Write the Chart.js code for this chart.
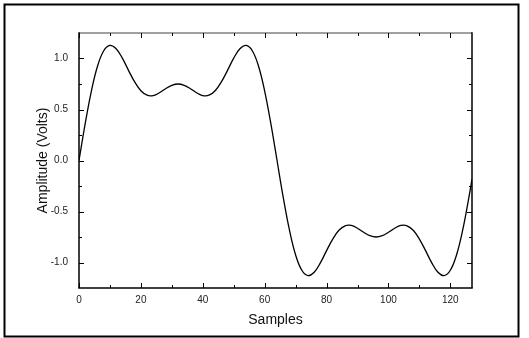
<!DOCTYPE html>
<html>
<head>
<meta charset="utf-8">
<script src="https://cdn.jsdelivr.net/npm/chart.js@4.4.0/dist/chart.umd.min.js"></script>
<style>
  html, body { margin:0; padding:0; background:#fff; }
  #wrap { width:529px; height:338px; }
</style>
</head>
<body>
<div id="wrap"><canvas id="waveChart" width="529" height="338"></canvas></div>
<script>
    // ======== Data ========
    const samples = [0, 2, 4, 6, 8, 10, 12, 14, 16, 18, 20, 22, 24, 26, 28, 30, 32,
      34, 36, 38, 40, 42, 44, 46, 48, 50, 52, 54, 56, 58, 60, 62, 64,
      66, 68, 70, 72, 74, 76, 78, 80, 82, 84, 86, 88, 90, 92, 94, 96,
      98, 100, 102, 104, 106, 108, 110, 112, 114, 116, 118, 120, 122, 124, 126, 127];
    const amplitude = [0, 0.361, 0.681, 0.926, 1.076, 1.128, 1.095, 1.003, 0.884, 0.770, 0.684, 0.640, 0.637, 0.664, 0.704, 0.737, 0.750,
      0.737, 0.704, 0.664, 0.637, 0.640, 0.684, 0.770, 0.884, 1.003, 1.095, 1.128, 1.076, 0.926, 0.681, 0.361, 0,
      -0.361, -0.681, -0.926, -1.076, -1.128, -1.095, -1.003, -0.884, -0.770, -0.684, -0.640, -0.637, -0.664, -0.704, -0.737, -0.750,
      -0.737, -0.704, -0.664, -0.637, -0.640, -0.684, -0.770, -0.884, -1.003, -1.095, -1.128, -1.076, -0.926, -0.681, -0.361, -0.183];

    const xMajorTicks = [0, 20, 40, 60, 80, 100, 120];
    const xMinorTicks = [10, 30, 50, 70, 90, 110];
    const yMajorTicks = [-1.0, -0.5, 0.0, 0.5, 1.0];
    const yMinorTicks = [-0.75, -0.25, 0.25, 0.75];

    // ======== Frame + inward ticks ========
    function line(ctx, x1, y1, x2, y2){
      ctx.beginPath(); ctx.moveTo(x1, y1); ctx.lineTo(x2, y2); ctx.stroke();
    }
    const framePlugin = {
      id: 'frame',
      beforeDraw(chart){
        const ctx = chart.ctx;
        ctx.save();
        ctx.fillStyle = '#fff';
        ctx.fillRect(0, 0, chart.width, chart.height);
        ctx.restore();
      },
      afterDraw(chart){
        const {ctx, chartArea: a} = chart;
        const xs = chart.scales.x, ys = chart.scales.y;
        ctx.save();
        // outer box
        ctx.strokeStyle = '#000';
        ctx.lineWidth = 2;
        ctx.strokeRect(4.5, 4.5, 514, 332);
        // plot borders (top one is grey in the original)
        ctx.lineWidth = 1.5;
        ctx.strokeStyle = '#808080';
        line(ctx, a.left, a.top, a.right, a.top);
        ctx.strokeStyle = '#000';
        line(ctx, a.left, a.top - 0.75, a.left, a.bottom);
        line(ctx, a.left - 0.75, a.bottom, a.right + 0.75, a.bottom);
        line(ctx, a.right, a.top - 0.75, a.right, a.bottom);
        // ticks point inward on all four sides
        ctx.lineWidth = 1;
        xMajorTicks.forEach(v => {
          const px = Math.round(xs.getPixelForValue(v)) + 0.5;
          line(ctx, px, a.bottom, px, a.bottom - 5);
          line(ctx, px, a.top, px, a.top + 5);
        });
        xMinorTicks.forEach(v => {
          const px = Math.round(xs.getPixelForValue(v)) + 0.5;
          line(ctx, px, a.bottom, px, a.bottom - 3);
          line(ctx, px, a.top, px, a.top + 3);
        });
        yMajorTicks.forEach(v => {
          const py = Math.round(ys.getPixelForValue(v)) + 0.5;
          line(ctx, a.left, py, a.left + 5, py);
          line(ctx, a.right, py, a.right - 5, py);
        });
        yMinorTicks.forEach(v => {
          const py = Math.round(ys.getPixelForValue(v)) + 0.5;
          line(ctx, a.left, py, a.left + 3, py);
          line(ctx, a.right, py, a.right - 3, py);
        });
        ctx.restore();
      }
    };

    // ======== Chart ========
    const ctx = document.getElementById('waveChart').getContext('2d');
    const chart = new Chart(ctx, {
      type: 'line',
      data: {
        datasets: [{
          data: samples.map((s, i) => ({ x: s, y: amplitude[i] })),
          borderColor: '#000',
          borderWidth: 1.3,
          pointRadius: 0,
          tension: 0.4,
          fill: false
        }]
      },
      options: {
        responsive: false,
        animation: false,
        layout: { padding: { left: 35, right: 57, top: 33, bottom: 0 } },
        plugins: {
          legend: { display: false },
          tooltip: { enabled: false }
        },
        scales: {
          x: {
            type: 'linear',
            min: 0,
            max: 127,
            afterFit: s => { s.height = 50; },
            afterBuildTicks: s => { s.ticks = xMajorTicks.map(v => ({ value: v })); },
            ticks: { color: '#222', font: { family: 'Liberation Sans, Arial', size: 10 }, padding: 6, maxRotation: 0, autoSkip: false },
            grid: { display: false, drawTicks: false },
            border: { display: false },
            title: { display: true, text: 'Samples', color: '#111', font: { family: 'Liberation Sans, Arial', size: 14 }, padding: { top: 0, bottom: 9 } }
          },
          y: {
            min: -1.25,
            max: 1.25,
            afterFit: s => { s.width = 44; },
            afterBuildTicks: s => { s.ticks = yMajorTicks.map(v => ({ value: v })); },
            ticks: { color: '#222', font: { family: 'Liberation Sans, Arial', size: 10 }, padding: 11, callback: v => v.toFixed(1) },
            grid: { display: false, drawTicks: false },
            border: { display: false },
            title: { display: true, text: 'Amplitude (Volts)', color: '#111', font: { family: 'Liberation Sans, Arial', size: 14 }, padding: 0 }
          }
        }
      },
      plugins: [framePlugin]
    });
</script>
</body>
</html>
